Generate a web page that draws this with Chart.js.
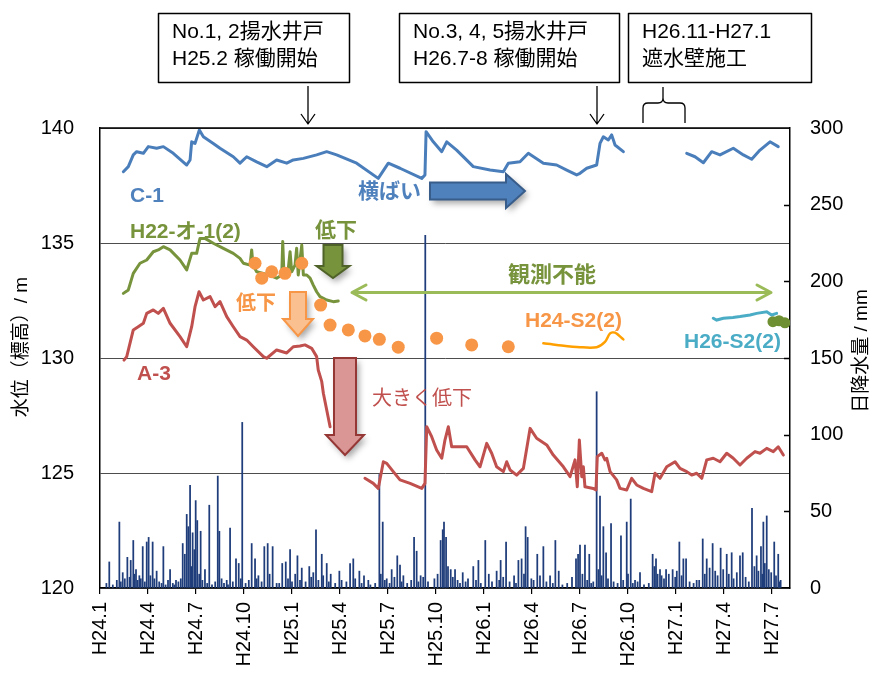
<!DOCTYPE html>
<html>
<head>
<meta charset="utf-8">
<script src="https://cdn.jsdelivr.net/npm/chart.js@4.4.1/dist/chart.umd.min.js"></script>
<style>
  html, body { margin: 0; padding: 0; background: #fff; }
  canvas { display: block; }
</style>
</head>
<body>
<canvas id="c" width="873" height="673"></canvas>
<script>
// Months counted from H24.1 (0 = H24.1, 3 = H24.4, ...)
const xLabels = ['H24.1','H24.4','H24.7','H24.10','H25.1','H25.4','H25.7','H25.10',
                 'H26.1','H26.4','H26.7','H26.10','H27.1','H27.4','H27.7'];
const levelTicks = [120, 125, 130, 135, 140];
const rainTicks = [0, 50, 100, 150, 200, 250, 300];

// C-1 groundwater level (m)
const c1Month = [1.46,1.77,2.08,2.29,2.71,3.02,3.54,3.96,4.58,5.42,5.63,5.73,5.94,6.21,6.46,7.08,7.5,8.33,8.75,9.17,
  9.79,10.42,11.04,11.67,12.08,12.71,13.54,14.17,14.79,16.04,17.39,18.02,18.75,20.11,20.31,20.38,20.83,21.36,21.67,22.29,
  23.33,24.38,25.21,25.52,26.25,26.77,27.71,28.54,29.17,29.79,30.0,30.42,31.04,31.25,31.46,31.77,31.98,32.19,32.71,34.5,
  36.67,37.19,37.71,38.23,38.75,39.58,40.21,40.73,41.25,41.875,42.39];
const c1Level = [138.10,138.32,138.83,138.97,138.90,139.19,139.12,139.19,138.90,138.39,138.61,139.40,139.33,139.91,139.62,139.33,139.12,138.75,138.47,138.75,
  138.53,138.32,138.61,138.47,138.61,138.68,138.83,138.97,138.83,138.47,137.81,138.47,138.25,137.81,137.96,139.84,139.40,138.97,139.40,139.04,
  138.32,138.17,138.10,138.47,138.53,138.90,138.47,138.39,138.17,137.96,138.03,138.25,138.39,139.33,139.62,139.48,139.70,139.26,138.97,null,
  138.90,138.75,138.49,138.97,138.83,139.12,138.83,138.64,139.04,139.40,139.19];

// H22-オ-1(2) groundwater level (m)
const h22Month = [1.46,1.77,2.08,2.5,2.92,3.33,3.64,3.96,4.38,5.0,5.42,5.73,6.04,6.25,6.56,7.08,7.71,8.33,8.75,8.96,
  9.38,9.48,9.56,9.79,10.21,10.52,11.04,11.36,11.42,11.5,11.77,11.88,11.98,12.19,12.29,12.39,12.61,12.71,12.92,13.13,
  13.33,13.54,13.75,14.17,14.58,14.89];
const h22Level = [132.81,132.96,133.68,134.12,134.26,134.62,134.70,134.84,134.70,134.26,133.83,134.55,134.55,135.20,135.20,134.99,134.77,134.55,134.33,134.12,
  134.04,134.70,134.04,133.75,133.68,133.61,133.47,133.61,135.06,133.61,133.90,134.62,133.75,134.04,134.77,133.61,134.91,133.61,133.61,133.47,
  133.17,132.88,132.67,132.52,132.45,132.48];

// A-3 groundwater level (m)
const a3Month = [1.5,1.67,2.08,2.39,2.71,2.92,3.33,3.64,3.96,4.38,
  5.0,5.42,5.73,5.94,6.19,6.46,6.88,7.19,7.5,7.92,
  8.33,8.75,9.17,9.58,10.21,10.42,11.04,11.67,12.08,12.5,
  12.81,13.23,13.54,13.64,13.86,13.96,14.17,14.38,15.5,16.56,
  17.08,17.39,17.71,17.92,18.33,18.75,19.38,20.11,20.31,20.42,
  20.73,21.04,21.36,21.56,21.77,21.98,22.5,22.92,23.44,23.75,
  24.17,24.48,24.79,25.21,25.42,25.63,26.04,26.46,26.88,27.29,
  27.92,28.33,28.96,29.38,29.69,29.83,29.96,30.11,30.21,30.31,
  30.83,31.0,31.08,31.36,31.56,31.67,31.88,32.29,32.5,32.92,
  33.23,33.54,33.96,34.48,34.69,35.0,35.42,35.94,36.25,36.67,
  36.98,37.29,37.61,37.92,38.33,38.75,39.17,39.58,40.0,40.42,
  40.94,41.25,41.67,42.08,42.39,42.71];
const a3Level = [129.91,130.06,131.22,131.36,131.51,131.94,132.09,131.94,132.16,131.51,
  130.93,130.49,131.36,132.23,132.88,132.52,132.67,132.23,132.45,131.80,
  131.36,130.93,130.78,130.49,130.06,129.99,130.35,130.22,130.49,130.52,
  130.57,130.42,130.06,129.48,128.97,128.47,127.74,127.01,null,124.77,
  124.55,124.33,125.49,125.42,125.06,124.70,124.55,124.33,124.55,127.01,
  126.58,126.00,125.64,126.43,127.01,126.14,126.14,126.14,125.57,125.27,
  126.29,125.86,125.27,125.06,125.49,125.13,124.91,125.20,126.94,126.51,
  126.22,125.78,125.27,124.84,125.57,124.40,126.43,124.84,125.27,124.40,
  124.33,124.26,125.71,125.86,125.57,125.64,125.06,124.70,124.33,124.26,
  124.77,124.48,124.33,124.19,124.99,124.77,125.27,125.49,125.20,125.06,
  124.91,124.99,124.77,125.57,125.64,125.49,125.86,125.64,125.35,125.64,
  125.93,125.86,126.07,125.93,126.14,125.78];

// H24-S2(2): manual readings (dots) and logger record (line)
const s2DotMonth = [9.69,10.11,10.73,11.56,12.61,13.79,14.38,15.52,16.56,17.46,18.64,21.04,23.23,25.52];
const s2DotLevel = [134.12,133.47,133.75,133.68,134.12,132.30,131.43,131.22,130.96,130.81,130.47,130.86,130.57,130.49];
const s2LineMonth = [27.71,28.54,30.0,31.04,31.56,31.88,32.19,32.71];
const s2LineLevel = [130.64,130.57,130.47,130.47,130.70,131.07,131.10,130.81];

// H26-S2(2)
const h26Month = [38.33,38.54,38.96,39.56,40.0,40.63,41.04,41.67,41.98,42.29];
const h26Level = [131.73,131.65,131.73,131.76,131.80,131.87,131.94,132.01,131.87,131.94];

// H22-オ-1(2) readings after restart
const h22EndMonth = [42.06,42.44,42.81];
const h22EndLevel = [131.58,131.62,131.53];

// Daily precipitation (mm)
const rainMonth = [0.58,1.21,1.42,1.71,1.92,2.08,2.25,2.46,2.67,2.92,3.04,3.29,3.54,3.96,4.38,4.75,5.17,5.42,5.52,5.63,
  5.79,5.98,6.08,6.29,6.56,6.83,7.36,7.46,7.92,8.13,8.5,8.67,8.89,9.48,9.69,9.79,10.27,10.48,10.79,11.04,
  11.39,11.61,11.88,12.34,12.61,13.08,13.33,13.5,13.86,14.17,14.42,14.96,15.63,15.83,16.21,16.5,16.77,17.46,17.67,17.92,
  18.23,18.58,18.75,18.96,19.63,19.79,20.04,20.33,21.29,21.42,21.5,21.63,21.92,22.19,22.67,23.33,23.65,24.08,24.79,25.04,
  25.38,25.88,26.15,26.35,26.6,26.73,26.96,27.33,27.71,28.13,28.46,28.67,29.75,29.88,30.0,30.31,30.58,30.83,31.04,31.25,
  31.46,31.63,31.94,32.56,32.92,33.17,33.44,33.75,34.54,34.75,35.0,35.38,35.79,36.21,36.46,36.63,37.29,37.67,37.92,38.29,
  38.79,39.17,39.48,40.0,40.17,40.75,41.04,41.31,41.46,41.67,42.14,42.39,42.54,
  0.4,0.8,1.05,1.3,1.55,1.85,2.15,2.35,2.55,2.8,3.15,3.4,3.7,3.85,4.1,4.25,4.55,4.65,4.9,5.05,
  5.3,5.7,5.9,6.2,6.4,6.7,7.0,7.2,7.6,7.75,8.0,8.3,8.8,9.1,9.3,9.9,10.1,10.6,11.2,11.75,
  12.0,12.2,12.5,12.85,13.2,13.65,13.95,14.3,14.7,15.1,15.4,15.95,16.35,16.9,17.2,17.55,17.8,18.1,18.4,18.85,
  19.2,19.45,19.9,20.2,20.5,20.9,21.1,21.75,22.05,22.35,22.5,22.85,23.0,23.5,23.8,24.3,24.5,24.95,25.2,25.6,
  26.0,26.5,27.1,27.5,27.9,28.3,28.9,29.2,29.5,30.15,30.45,30.7,31.15,31.35,31.75,32.1,32.35,32.7,33.0,33.3,
  33.6,34.0,34.3,34.65,34.85,35.1,35.25,35.55,35.95,36.05,36.35,36.85,37.1,37.45,37.8,38.1,38.45,38.6,38.95,39.3,
  39.6,39.8,40.35,40.55,40.9,41.15,41.4,41.55,41.8,41.95,42.25,42.45];
const rainMm = [17,43,10,20,18,31,12,8,27,30,33,30,11,27,12,5,29,48,40,67,
  36,57,44,37,12,54,73,37,5,39,19,16,108,29,19,6,27,29,27,3,
  16,17,25,21,13,14,10,38,22,16,9,11,16,19,11,8,5,74,43,6,
  12,21,15,8,33,24,8,230,31,38,43,33,12,12,10,14,18,31,11,18,
  30,8,18,19,40,33,6,22,27,8,31,11,19,22,28,28,22,4,128,60,
  40,23,42,34,43,58,5,10,22,19,12,12,12,30,19,19,5,32,19,29,
  26,22,23,21,23,52,21,27,43,47,30,22,5,
  3,2,5,4,6,7,9,5,6,4,8,6,4,3,2,5,3,2,4,6,
  22,14,25,9,5,3,2,4,6,3,2,4,6,3,5,8,4,9,3,6,
  4,9,5,4,7,5,8,4,3,5,4,6,3,2,3,9,5,3,7,4,
  3,5,4,7,4,6,9,14,7,5,3,4,6,5,3,9,4,5,7,4,
  3,9,5,8,4,3,2,3,7,9,5,3,12,8,6,4,3,5,9,3,
  4,2,3,14,9,8,6,9,7,11,8,4,3,5,9,13,11,8,12,9,
  6,10,7,4,14,11,9,16,12,10,8,4];

const FONT = '"Liberation Sans", Arial, "Noto Sans CJK JP", sans-serif';
Chart.defaults.font.family = FONT;
Chart.defaults.color = '#000';

function pairs(xs, ys) { return xs.map((x, i) => ({ x: x, y: ys[i] })); }

const rainData = pairs(rainMonth, rainMm).sort((a, b) => a.x - b.x);

// Annotations, arrows and axis titles drawn over the plot
const overlay = {
  id: 'overlay',
  afterDatasetsDraw(chart) {
    const ctx = chart.ctx;
    const ca = chart.chartArea;
    const y2 = chart.scales.y2;
    ctx.save();

    // frame top line and inward ticks on the precipitation axis
    ctx.strokeStyle = '#000';
    ctx.lineWidth = 1.5;
    ctx.beginPath();
    ctx.moveTo(ca.left, ca.top); ctx.lineTo(ca.right, ca.top);
    rainTicks.slice(1, -1).forEach(v => {
      const py = Math.round(y2.getPixelForValue(v)) + 0.5;
      ctx.moveTo(ca.right, py); ctx.lineTo(ca.right - 6, py);
    });
    ctx.stroke();

    // block arrows
    function blockArrow(points, fill, stroke) {
      ctx.save();
      ctx.shadowColor = 'rgba(0,0,0,0.35)';
      ctx.shadowBlur = 6; ctx.shadowOffsetX = 3; ctx.shadowOffsetY = 4;
      ctx.beginPath();
      points.forEach((p, i) => i ? ctx.lineTo(p[0], p[1]) : ctx.moveTo(p[0], p[1]));
      ctx.closePath();
      ctx.fillStyle = fill; ctx.fill();
      ctx.shadowColor = 'transparent';
      ctx.strokeStyle = stroke; ctx.lineWidth = 2; ctx.lineJoin = 'miter';
      ctx.stroke();
      ctx.restore();
    }
    function rightArrow(x0, x1, cy, bh, hh, hl) {
      return [[x0, cy - bh], [x1 - hl, cy - bh], [x1 - hl, cy - hh], [x1, cy], [x1 - hl, cy + hh], [x1 - hl, cy + bh], [x0, cy + bh]];
    }
    function downArrow(cx, y0, y1, bh, hh, hl) {
      return [[cx - bh, y0], [cx + bh, y0], [cx + bh, y1 - hl], [cx + hh, y1 - hl], [cx, y1], [cx - hh, y1 - hl], [cx - bh, y1 - hl]];
    }
    blockArrow(rightArrow(430, 525, 191, 8.5, 17, 19), '#4f81bd', '#385d8a');
    blockArrow(downArrow(333, 245, 278, 9.5, 16.5, 12), '#77933c', '#4f6228');
    blockArrow(downArrow(298, 292, 336, 8, 15, 17), '#fac090', '#f79646');
    blockArrow(downArrow(345, 358, 455, 11, 19, 20), '#d99694', '#953735');

    // "観測不能" span arrow
    ctx.strokeStyle = '#9bbb59'; ctx.lineWidth = 3; ctx.lineCap = 'round'; ctx.lineJoin = 'round';
    ctx.beginPath();
    ctx.moveTo(352, 292.5); ctx.lineTo(771, 292.5);
    ctx.moveTo(366, 285); ctx.lineTo(352, 292.5); ctx.lineTo(366, 300);
    ctx.moveTo(757, 285); ctx.lineTo(771, 292.5); ctx.lineTo(757, 300);
    ctx.stroke();

    // labels
    ctx.textBaseline = 'middle'; ctx.textAlign = 'left';
    const labels = [
      ['C-1', 130, 196, 'bold 21px', '#4f81bd'],
      ['H22-オ-1(2)', 130, 232, 'bold 21px', '#77933c'],
      ['A-3', 137, 374, 'bold 21px', '#c0504d'],
      ['横ばい', 358, 192, 'bold 21px', '#4f81bd'],
      ['低下', 315, 231, 'bold 21px', '#77933c'],
      ['観測不能', 508, 276, 'bold 22px', '#77933c'],
      ['低下', 236, 304, 'bold 20px', '#f79646'],
      ['H24-S2(2)', 525, 321, 'bold 21px', '#f79646'],
      ['H26-S2(2)', 684, 342, 'bold 21px', '#4bacc6'],
      ['大きく低下', 372, 399, '20px', '#c0504d']
    ];
    labels.forEach(l => {
      ctx.font = l[3] + ' ' + FONT;
      ctx.fillStyle = l[4];
      ctx.fillText(l[0], l[1], l[2]);
    });

    // event boxes
    ctx.strokeStyle = '#000'; ctx.lineWidth = 1.5; ctx.lineCap = 'butt';
    ctx.fillStyle = '#000';
    ctx.font = '21px ' + FONT;
    const boxes = [
      [158, 13, 191, 69, 'No.1, 2揚水井戸', 'H25.2 稼働開始'],
      [399, 13, 220, 69, 'No.3, 4, 5揚水井戸', 'H26.7-8 稼働開始'],
      [628, 13, 183, 69, 'H26.11-H27.1', '遮水壁施工']
    ];
    boxes.forEach(b => {
      ctx.strokeRect(b[0] + 0.5, b[1] + 0.5, b[2], b[3]);
      ctx.fillText(b[4], b[0] + 14, b[1] + 19);
      ctx.fillText(b[5], b[0] + 14, b[1] + 46);
    });

    // pointers from the boxes
    ctx.lineWidth = 1.3;
    ctx.beginPath();
    [308, 597].forEach(x => {
      ctx.moveTo(x, 86); ctx.lineTo(x, 124);
      ctx.moveTo(x - 7, 114); ctx.lineTo(x, 124); ctx.lineTo(x + 7, 114);
    });
    ctx.moveTo(643, 123); ctx.lineTo(643, 108);
    ctx.quadraticCurveTo(643, 103, 648, 103); ctx.lineTo(658, 103);
    ctx.quadraticCurveTo(663, 103, 663, 98); ctx.lineTo(663, 87);
    ctx.moveTo(663, 98);
    ctx.quadraticCurveTo(663, 103, 668, 103); ctx.lineTo(680, 103);
    ctx.quadraticCurveTo(685, 103, 685, 108); ctx.lineTo(685, 123);
    ctx.stroke();

    // axis titles
    ctx.font = '19px ' + FONT;
    ctx.fillStyle = '#000';
    ctx.textAlign = 'center';
    ctx.save();
    ctx.translate(22, 347); ctx.rotate(-Math.PI / 2);
    ctx.fillText('水位（標高）/ m', 0, 0);
    ctx.restore();
    ctx.save();
    ctx.translate(862, 351); ctx.rotate(-Math.PI / 2);
    ctx.fillText('日降水量 / mm', 0, 0);
    ctx.restore();

    ctx.restore();
  }
};

new Chart(document.getElementById('c'), {
  type: 'line',
  data: {
    datasets: [
      { label: 'C-1', data: pairs(c1Month, c1Level), yAxisID: 'y', borderColor: '#4a7ebb', borderWidth: 3,
        pointRadius: 0, tension: 0, spanGaps: false, borderJoinStyle: 'round', borderCapStyle: 'round', order: 1 },
      { label: 'H22-オ-1(2)', data: pairs(h22Month, h22Level), yAxisID: 'y', borderColor: '#77933c', borderWidth: 3,
        pointRadius: 0, tension: 0, borderJoinStyle: 'round', borderCapStyle: 'round', order: 2 },
      { label: 'A-3', data: pairs(a3Month, a3Level), yAxisID: 'y', borderColor: '#c0504d', borderWidth: 3,
        pointRadius: 0, tension: 0, spanGaps: false, borderJoinStyle: 'round', borderCapStyle: 'round', order: 1 },
      { label: 'H24-S2(2)', data: pairs(s2DotMonth, s2DotLevel), yAxisID: 'y', showLine: false,
        pointRadius: 6.5, pointBackgroundColor: '#f79646', pointBorderWidth: 0, order: 0 },
      { label: 'H24-S2(2) 自記', data: pairs(s2LineMonth, s2LineLevel), yAxisID: 'y', borderColor: '#ffa000', borderWidth: 2.5,
        pointRadius: 0, tension: 0.3, borderCapStyle: 'round', order: 1 },
      { label: 'H26-S2(2)', data: pairs(h26Month, h26Level), yAxisID: 'y', borderColor: '#4bacc6', borderWidth: 3,
        pointRadius: 0, tension: 0, borderCapStyle: 'round', order: 1 },
      { label: 'H22-オ-1(2) 再開', data: pairs(h22EndMonth, h22EndLevel), yAxisID: 'y', showLine: false,
        pointRadius: 5.5, pointBackgroundColor: '#6e8f32', pointBorderWidth: 0, order: 0 },
      { type: 'bar', label: '日降水量', data: rainData, yAxisID: 'y2', backgroundColor: '#1f3d7a',
        borderWidth: 0, barThickness: 1.1, grouped: false, order: 10 }
    ]
  },
  options: {
    responsive: false,
    animation: false,
    events: [],
    layout: { padding: { top: 128, left: 0, right: 0, bottom: 0 } },
    plugins: { legend: { display: false }, tooltip: { enabled: false } },
    scales: {
      x: {
        type: 'linear', min: 0, max: 43.125, offset: false,
        afterBuildTicks: s => { s.ticks = xLabels.map((_, i) => ({ value: i * 3 })); },
        afterFit: s => { s.height = 85; },
        ticks: { autoSkip: false, minRotation: 90, maxRotation: 90, padding: 8, font: { size: 20 }, color: '#000',
                 callback: v => xLabels[Math.round(v / 3)] },
        grid: { display: true, drawOnChartArea: false, drawTicks: true, tickLength: 6, color: '#000', lineWidth: 1.2, offset: false },
        border: { display: true, color: '#000', width: 1.5 }
      },
      y: {
        position: 'left', min: 120, max: 140,
        afterBuildTicks: s => { s.ticks = levelTicks.map(v => ({ value: v })); },
        afterFit: s => { s.width = 100; },
        ticks: { padding: 26, font: { size: 20 }, color: '#000' },
        grid: { color: '#4d4d4d', lineWidth: 1, drawTicks: false },
        border: { display: true, color: '#000', width: 1.5 }
      },
      y2: {
        position: 'right', min: 0, max: 300,
        afterBuildTicks: s => { s.ticks = rainTicks.map(v => ({ value: v })); },
        afterFit: s => { s.width = 83; },
        ticks: { padding: 20, font: { size: 20 }, color: '#000' },
        grid: { drawOnChartArea: false, drawTicks: false },
        border: { display: true, color: '#000', width: 1.5 }
      }
    }
  },
  plugins: [overlay]
});
</script>
</body>
</html>
